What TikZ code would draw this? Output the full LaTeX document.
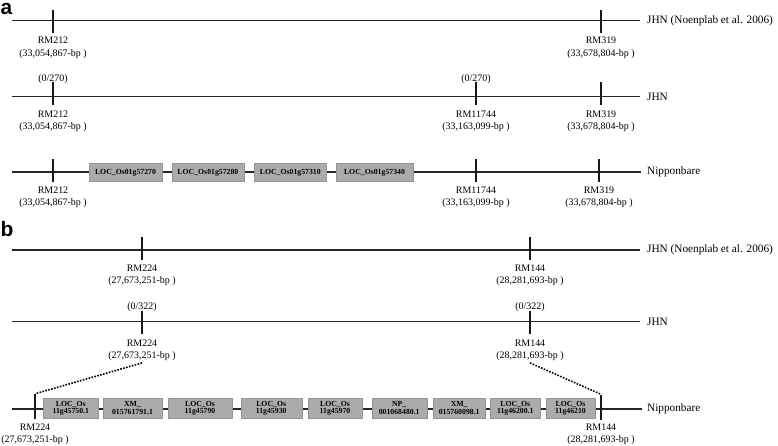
\documentclass[tikz,border=0pt]{standalone}
\usepackage{fontspec}
\setmainfont{Liberation Serif}
\newfontfamily\panelfont{Liberation Sans}

\tikzset{
  chr/.style={line width=1.3bp, draw=black!85},
  mtick/.style={fill=black!90, inner sep=0, minimum width=2.2bp, minimum height=23bp},
  mk/.style={align=center, inner sep=0, font=\fontsize{10}{12.6}\selectfont},
  lab/.style={anchor=west, inner sep=0, font=\fontsize{11.3}{13}\selectfont},
  gene/.style={fill=black!33, draw=black!42, line width=0.4bp, inner sep=0, minimum height=18bp, font=\bfseries\fontsize{7.8}{7.8}\selectfont},
  gene2/.style={gene, align=center, minimum height=20bp},
  link/.style={line width=1.6bp, dash pattern=on 1.6bp off 1.4bp},
  panel/.style={anchor=base west, inner sep=0, font=\panelfont\bfseries\fontsize{21}{21}\selectfont}
}

\begin{document}
\begin{tikzpicture}[x=1bp, y=-1bp]
\useasboundingbox (0,0) rectangle (778,446);

% panel a
\node[panel] (pa) at (0.5,15) {a};
\coordinate (a1s) at (12,20.7);
\node[lab] (a1n) at (647,20.7) {JHN (Noenplab et al. 2006)};
\draw[chr] (a1s) -- ([xshift=-7bp]a1n.west);
\node[mtick] (a1m1) at (53,21.7) {};
\node[mtick] (a1m2) at (601,21.7) {};
\node[mk] (a1m1l) at (53,48) {RM212\\(33,054,867-bp~)};
\node[mk] (a1m2l) at (601,48) {RM319\\(33,678,804-bp~)};

\coordinate (a2s) at (12,96.7);
\node[lab] (a2n) at (647,96.7) {JHN};
\draw[chr] (a2s) -- ([xshift=-7bp]a2n.west);
\node[mtick] (a2m1) at (53,94) {};
\node[mtick] (a2m2) at (476,94) {};
\node[mtick] (a2m3) at (601,94) {};
\node[mk] (a2c1) at (53,79) {(0/270)};
\node[mk] (a2c2) at (476,79) {(0/270)};
\node[mk] (a2m1l) at (53,121.4) {RM212\\(33,054,867-bp~)};
\node[mk] (a2m2l) at (476,121.4) {RM11744\\(33,163,099-bp~)};
\node[mk] (a2m3l) at (601,121.4) {RM319\\(33,678,804-bp~)};

\coordinate (a3s) at (12,172);
\node[lab] (a3n) at (647,172) {Nipponbare};
\draw[chr] (a3s) -- ([xshift=-6bp]a3n.west);
\node[gene, minimum width=72.4bp] (a3g1) at (125.5,172.5) {LOC\_Os01g57270};
\node[gene, minimum width=72.4bp] (a3g2) at (207.9,172.5) {LOC\_Os01g57280};
\node[gene, minimum width=72.7bp] (a3g3) at (290.3,172.5) {LOC\_Os01g57310};
\node[gene, minimum width=77bp] (a3g4) at (374.5,172.5) {LOC\_Os01g57340};
\node[mtick] (a3m1) at (53,171) {};
\node[mtick] (a3m2) at (476,171) {};
\node[mtick] (a3m3) at (599,171) {};
\node[mk] (a3m1l) at (53,197.4) {RM212\\(33,054,867-bp~)};
\node[mk] (a3m2l) at (476,197.4) {RM11744\\(33,163,099-bp~)};
\node[mk] (a3m3l) at (599,197.4) {RM319\\(33,678,804-bp~)};

% panel b
\node[panel] (pb) at (0.5,237) {b};
\coordinate (b1s) at (12,250);
\node[lab] (b1n) at (647,250) {JHN (Noenplab et al. 2006)};
\draw[chr] (b1s) -- ([xshift=-7bp]b1n.west);
\node[mtick] (b1m1) at (142,249) {};
\node[mtick] (b1m2) at (530,249) {};
\node[mk] (b1m1l) at (142,275.4) {RM224\\(27,673,251-bp~)};
\node[mk] (b1m2l) at (530,275.4) {RM144\\(28,281,693-bp~)};

\coordinate (b2s) at (12,321.7);
\node[lab] (b2n) at (647,321.7) {JHN};
\draw[chr] (b2s) -- ([xshift=-7bp]b2n.west);
\node[mtick] (b2m1) at (142,323) {};
\node[mtick] (b2m2) at (530,323) {};
\node[mk] (b2c1) at (142,306.7) {(0/322)};
\node[mk] (b2c2) at (530,306.7) {(0/322)};
\node[mk] (b2m1l) at (142,350.1) {RM224\\(27,673,251-bp~)};
\node[mk] (b2m2l) at (530,350.1) {RM144\\(28,281,693-bp~)};

\coordinate (b3s) at (12,409);
\node[lab] (b3n) at (647,409) {Nipponbare};
\draw[chr] (b3s) -- ([xshift=-5bp]b3n.west);
\node[gene2, minimum width=55bp] (b3g1) at (70.8,408.3) {LOC\_Os\\11g45750.1};
\node[gene2, minimum width=58.4bp] (b3g2) at (132.5,408.3) {XM\_\\015761791.1};
\node[gene2, minimum width=63.4bp] (b3g3) at (200,408.3) {LOC\_Os\\11g45790};
\node[gene2, minimum width=61bp] (b3g4) at (271.2,408.3) {LOC\_Os\\11g45930};
\node[gene2, minimum width=53.4bp] (b3g5) at (335,408.3) {LOC\_Os\\11g45970};
\node[gene2, minimum width=55bp] (b3g6) at (399.2,408.3) {NP\_\\001068480.1};
\node[gene2, minimum width=51.7bp] (b3g7) at (459.2,408.3) {XM\_\\015760098.1};
\node[gene2, minimum width=49.3bp] (b3g8) at (515.3,408.3) {LOC\_Os\\11g46200.1};
\node[gene2, minimum width=49bp] (b3g9) at (570.5,408.3) {LOC\_Os\\11g46210};
\node[mtick, minimum height=25bp] (b3m1) at (35,406.5) {};
\node[mtick, minimum height=25bp] (b3m2) at (601,407) {};
\node[mk] (b3m1l) at (35,434.4) {RM224\\(27,673,251-bp~)};
\node[mk] (b3m2l) at (601,434.4) {RM144\\(28,281,693-bp~)};

\draw[link] ([yshift=-2bp]b2m1l.south) -- (b3m1.north);
\draw[link] ([yshift=-2bp]b2m2l.south) -- (b3m2.north);
\end{tikzpicture}
\end{document}
